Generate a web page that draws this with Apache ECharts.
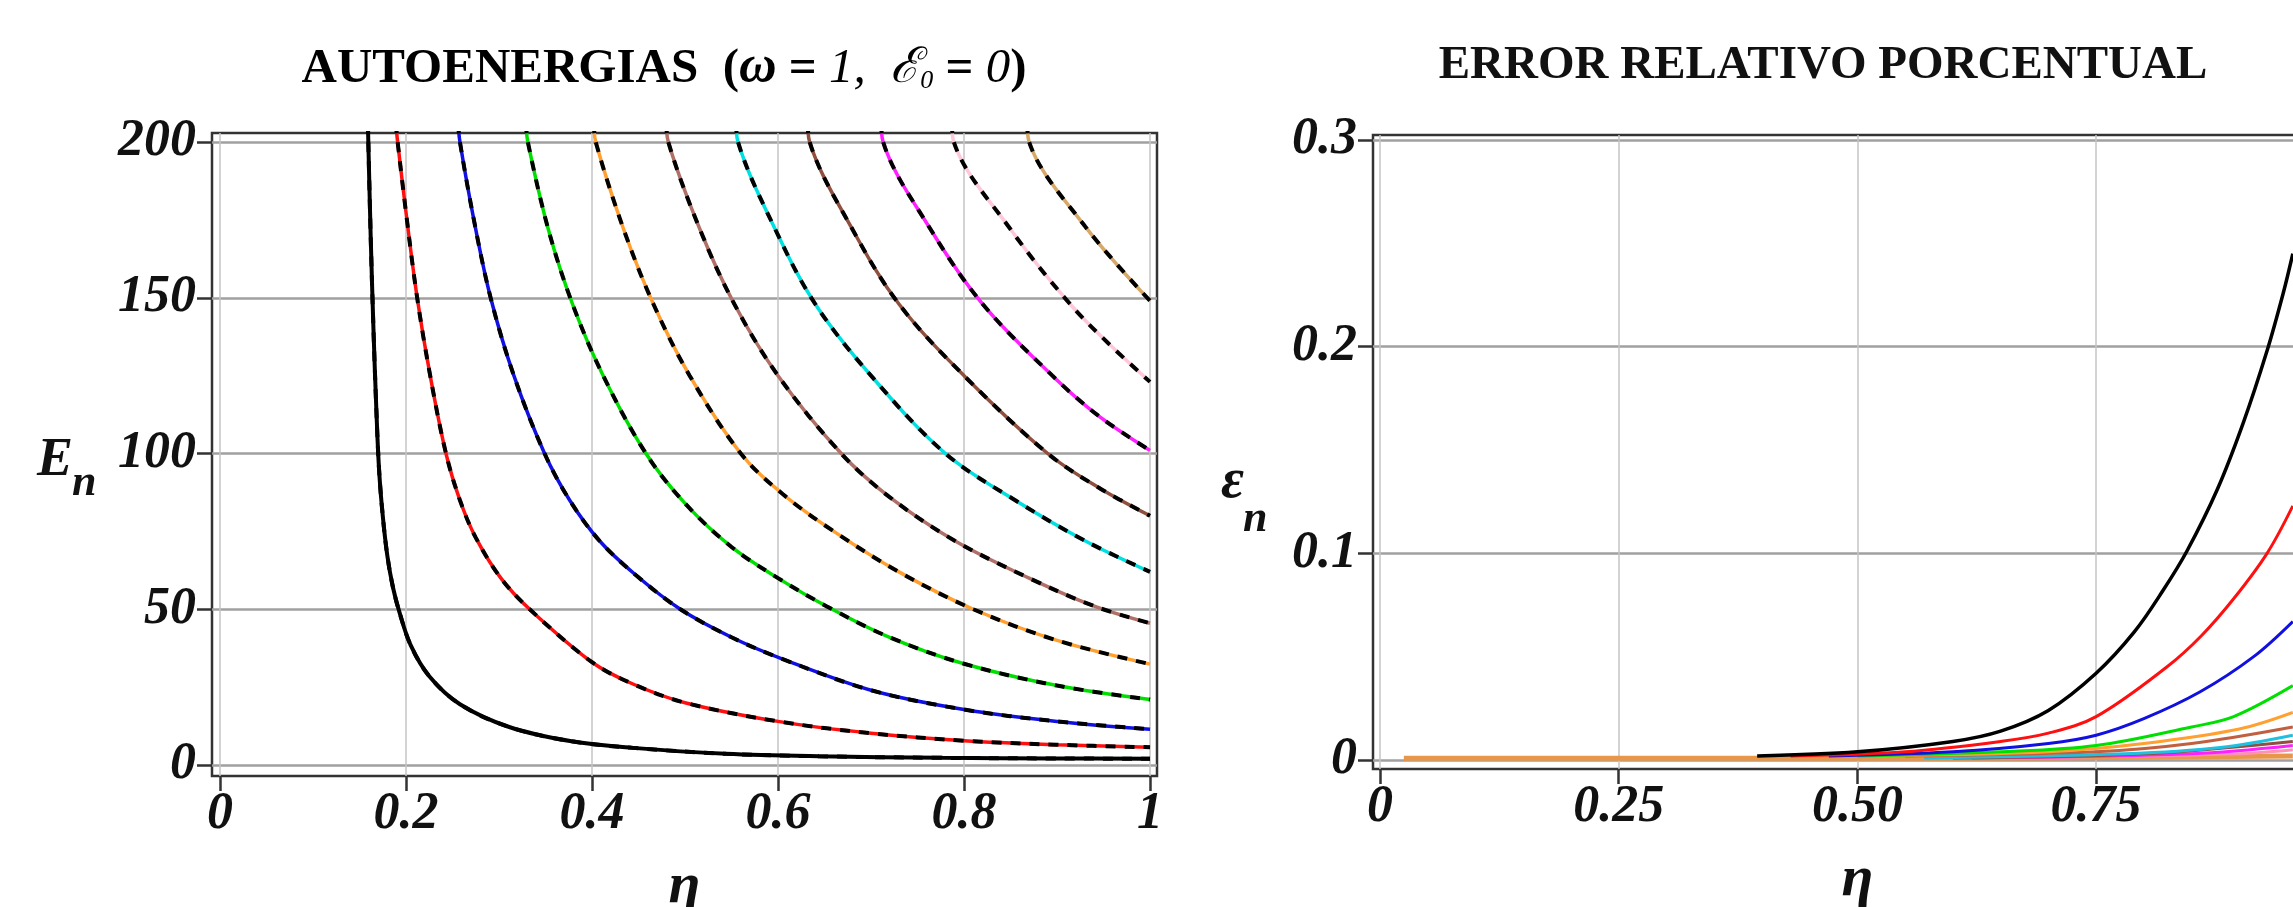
<!DOCTYPE html>
<html>
<head>
<meta charset="utf-8">
<style>
  html, body { margin: 0; padding: 0; background: #fff; }
  #chart-container { width: 2293px; height: 907px; }
</style>
<script src="https://cdn.jsdelivr.net/npm/echarts@6.0.0/dist/echarts.min.js"></script>
</head>
<body>
<div id="chart-container"></div>
<script>
var dom = document.getElementById("chart-container");
var myChart = echarts.init(dom, null, { renderer: "canvas" });

// tick labels
const leftXTicks = [0, 0.2, 0.4, 0.6, 0.8, 1];
const leftYTicks = [0, 50, 100, 150, 200];
const rightXTicks = [0, 0.25, 0.5, 0.75, 1];
const rightXLabels = [0, 0.25, 0.5, 0.75];
const rightYTicks = [0, 0.1, 0.2, 0.3];

// eigen-energies E_n(eta), [eta, E]
const energyN1 = [[0.159, 206], [0.162, 170], [0.165, 140], [0.168, 115], [0.171, 95], [0.175, 80], [0.180, 67], [0.186, 57], [0.193, 49], [0.205, 38.5], [0.225, 28.5], [0.258, 19.5], [0.311, 12.2], [0.378, 7.6], [0.444, 5.5], [0.544, 3.6], [0.644, 2.8], [0.777, 2.3], [0.9, 2.1], [1.0, 2.0]];
const energyN2 = [[0.189, 206], [0.191, 200], [0.201, 175], [0.212, 150], [0.226, 125], [0.243, 100], [0.258, 85], [0.275, 73], [0.302, 60], [0.333, 50], [0.4, 33], [0.444, 26], [0.5, 20], [0.6, 14], [0.7, 10.2], [0.8, 7.8], [0.9, 6.5], [1.0, 5.7]];
const energyN3 = [[0.256, 206], [0.258, 200], [0.273, 175], [0.291, 150], [0.316, 125], [0.349, 100], [0.376, 85], [0.408, 72], [0.447, 61], [0.495, 50], [0.55, 41], [0.605, 34], [0.7, 24], [0.8, 17.8], [0.9, 14], [1.0, 11.5]];
const energyN4 = [[0.329, 206], [0.331, 200], [0.353, 172], [0.379, 148], [0.412, 125], [0.458, 100], [0.50, 84], [0.55, 70], [0.60, 60], [0.652, 51], [0.72, 41], [0.8, 32.5], [0.9, 25.5], [1.0, 21]];
const energyN5 = [[0.402, 206], [0.404, 200], [0.434, 172], [0.466, 148], [0.505, 125], [0.560, 100], [0.605, 87], [0.66, 75], [0.73, 62], [0.81, 50], [0.9, 40], [1.0, 32.4]];
const energyN6 = [[0.480, 206], [0.482, 200], [0.516, 172], [0.553, 148], [0.600, 125], [0.668, 100], [0.72, 86], [0.79, 72], [0.87, 60], [0.94, 51], [1.0, 45.5]];
const energyN7 = [[0.555, 206], [0.557, 200], [0.597, 172], [0.640, 148], [0.700, 125], [0.780, 100], [0.855, 85], [0.93, 72], [1.0, 62]];
const energyN8 = [[0.632, 206], [0.634, 200], [0.680, 172], [0.730, 148], [0.800, 125], [0.890, 100], [0.945, 89], [1.0, 80]];
const energyN9 = [[0.711, 206], [0.713, 200], [0.764, 172], [0.820, 148], [0.895, 125], [0.945, 112], [1.0, 101]];
const energyN10 = [[0.787, 206], [0.789, 200], [0.85, 172], [0.914, 148], [0.96, 134], [1.0, 123]];
const energyN11 = [[0.868, 206], [0.870, 200], [0.93, 173], [1.0, 149]];

// relative error eps_n(eta), [eta, eps]
const errorN1 = [[0.395, 0.002], [0.5, 0.004], [0.6, 0.009], [0.65, 0.014], [0.7, 0.024], [0.75, 0.042], [0.79, 0.062], [0.82, 0.082], [0.845, 0.101], [0.877, 0.131], [0.904, 0.163], [0.929, 0.198], [0.946, 0.226], [0.956, 0.245]];
const errorN2 = [[0.43, 0.002], [0.55, 0.004], [0.65, 0.009], [0.7, 0.013], [0.75, 0.021], [0.824, 0.045], [0.86, 0.06], [0.894, 0.078], [0.929, 0.1], [0.956, 0.123]];
const errorN3 = [[0.47, 0.002], [0.6, 0.004], [0.7, 0.008], [0.75, 0.012], [0.8, 0.02], [0.859, 0.033], [0.915, 0.05], [0.956, 0.067]];
const errorN4 = [[0.5, 0.002], [0.65, 0.004], [0.75, 0.007], [0.85, 0.016], [0.894, 0.021], [0.956, 0.036]];
const errorN5 = [[0.52, 0.002], [0.7, 0.004], [0.8, 0.008], [0.9, 0.015], [0.956, 0.023]];
const errorN6 = [[0.55, 0.002], [0.75, 0.004], [0.85, 0.008], [0.956, 0.016]];
const errorN7 = [[0.57, 0.001], [0.78, 0.003], [0.88, 0.006], [0.956, 0.012]];
const errorN8 = [[0.6, 0.001], [0.8, 0.003], [0.956, 0.009]];
const errorN9 = [[0.62, 0.001], [0.85, 0.003], [0.956, 0.007]];
const errorN10 = [[0.65, 0.001], [0.9, 0.003], [0.956, 0.005]];
const errorN11 = [[0.025, 0.0008], [0.5, 0.0008], [0.7, 0.001], [0.956, 0.002]];

const energySets = [energyN1, energyN2, energyN3, energyN4, energyN5, energyN6, energyN7, energyN8, energyN9, energyN10, energyN11];
const errorSets = [errorN1, errorN2, errorN3, errorN4, errorN5, errorN6, errorN7, errorN8, errorN9, errorN10, errorN11];
const levelColors = ["#000000", "#ff1010", "#1010e0", "#00e000", "#ffa030", "#b07068", "#00e0e0", "#905040", "#ff20ff", "#ffc8d8", "#d8a868"];
const errorColors = ["#000000", "#ff1010", "#1010e0", "#00e000", "#ffa030", "#c06040", "#20c0e0", "#905040", "#ff20ff", "#ff90b8", "#e8964a"];

const serifFont = '"Liberation Serif", "Times New Roman", serif';

const tickLabelStyle = {
  color: "#111",
  fontFamily: serifFont,
  fontStyle: "italic",
  fontWeight: "bold",
  fontSize: 52,
};

function makeXAxis(gridIndex, min, max, ticks, labels, formatter) {
  return {
    type: "value",
    gridIndex: gridIndex,
    min: min,
    max: max,
    name: "η",
    nameLocation: "middle",
    nameGap: 82,
    nameTextStyle: {
      color: "#111",
      fontFamily: serifFont,
      fontStyle: "italic",
      fontWeight: "bold",
      fontSize: 58,
    },
    axisLine: { show: false, onZero: false },
    axisTick: {
      show: true,
      length: 15,
      customValues: ticks,
      lineStyle: { color: "#333", width: 2.5 },
    },
    axisLabel: Object.assign({ margin: 13, customValues: labels, formatter: formatter }, tickLabelStyle),
    splitLine: {
      show: true,
      lineStyle: { color: "#c4c4c4", width: 1.5 },
    },
  };
}

function makeYAxis(gridIndex, min, max, ticks) {
  return {
    type: "value",
    gridIndex: gridIndex,
    min: min,
    max: max,
    axisLine: { show: false, onZero: false },
    axisTick: {
      show: true,
      length: 15,
      customValues: ticks,
      lineStyle: { color: "#333", width: 2.5 },
    },
    axisLabel: Object.assign({ margin: 16, customValues: ticks, formatter: (v) => String(v) }, tickLabelStyle),
    splitLine: {
      show: true,
      lineStyle: { color: "#a0a0a0", width: 2.5 },
    },
  };
}

const series = [];

energySets.forEach(function (data, i) {
  series.push({
    type: "line",
    xAxisIndex: 0,
    yAxisIndex: 0,
    data: data,
    symbol: "none",
    smooth: 0.35,
    silent: true,
    z: 2,
    lineStyle: { color: levelColors[i], width: i === 0 ? 4 : 3.5 },
  });
  series.push({
    type: "line",
    xAxisIndex: 0,
    yAxisIndex: 0,
    data: data,
    symbol: "none",
    smooth: 0.35,
    silent: true,
    z: 3,
    lineStyle: { color: "#000", width: 4, type: [10, 9] },
  });
});

errorSets
  .map(function (data, i) {
    return {
      type: "line",
      xAxisIndex: 1,
      yAxisIndex: 1,
      data: data,
      symbol: "none",
      smooth: 0.35,
      silent: true,
      z: 2,
      lineStyle: { color: errorColors[i], width: i === 10 ? 5 : i === 0 ? 3.5 : 3 },
    };
  })
  .reverse()
  .forEach(function (s) {
    series.push(s);
  });

function textEl(x, y, text, font, align) {
  return {
    type: "text",
    x: x,
    y: y,
    style: {
      text: text,
      fill: "#111",
      font: font,
      align: align,
      verticalAlign: "middle",
      textAlign: align,
      textVerticalAlign: "middle",
    },
  };
}

var option = {
  backgroundColor: "#ffffff",
  animation: false,
  grid: [
    {
      left: 212,
      top: 133,
      width: 945,
      height: 643,
      outerBoundsMode: "none",
      containLabel: false,
      show: true,
      backgroundColor: "#ffffff",
      borderColor: "#333",
      borderWidth: 2.5,
    },
    {
      left: 1373,
      top: 135,
      width: 969,
      height: 634,
      outerBoundsMode: "none",
      containLabel: false,
      show: true,
      backgroundColor: "#ffffff",
      borderColor: "#333",
      borderWidth: 2.5,
    },
  ],
  xAxis: [
    makeXAxis(0, -0.0086, 1.0075, leftXTicks, leftXTicks, (v) => String(v)),
    makeXAxis(1, -0.0073, 1.0075, rightXTicks, rightXLabels, (v) => (v === 0 ? "0" : v.toFixed(2))),
  ],
  yAxis: [
    makeYAxis(0, -3.53, 202.9, leftYTicks),
    makeYAxis(1, -0.00435, 0.30242, rightYTicks),
  ],
  graphic: [
    {
      type: "text",
      x: 664,
      y: 66,
      style: {
        text: "{t|AUTOENERGIAS  (}{w|ω}{t| = }{i|1,  ℰ}{s|0}{t| = }{i|0}{t|)}",
        align: "center",
        verticalAlign: "middle",
        textAlign: "center",
        textVerticalAlign: "middle",
        rich: {
          t: { fontFamily: serifFont, fontWeight: "bold", fontSize: 49, color: "#111", verticalAlign: "bottom", lineHeight: 56 },
          w: { fontFamily: serifFont, fontWeight: "bold", fontStyle: "italic", fontSize: 52, color: "#111", verticalAlign: "bottom", lineHeight: 56 },
          i: { fontFamily: serifFont, fontStyle: "italic", fontSize: 49, color: "#111", verticalAlign: "bottom", lineHeight: 56 },
          s: { fontFamily: serifFont, fontStyle: "italic", fontSize: 26, color: "#111", verticalAlign: "bottom", lineHeight: 16 },
        },
      },
    },
    textEl(1823, 66, "ERROR RELATIVO PORCENTUAL", 'bold 47px "Liberation Serif", serif', "center"),
    textEl(37, 461, "E", 'italic bold 54px "Liberation Serif", serif', "left"),
    textEl(72, 484, "n", 'italic bold 44px "Liberation Serif", serif', "left"),
    textEl(1221, 483, "ε", 'italic bold 56px "Liberation Serif", serif', "left"),
    textEl(1243, 520, "n", 'italic bold 44px "Liberation Serif", serif', "left"),
  ],
  series: series,
};

if (option && typeof option === "object") {
  myChart.setOption(option);
}

window.addEventListener("resize", myChart.resize);
</script>
</body>
</html>
